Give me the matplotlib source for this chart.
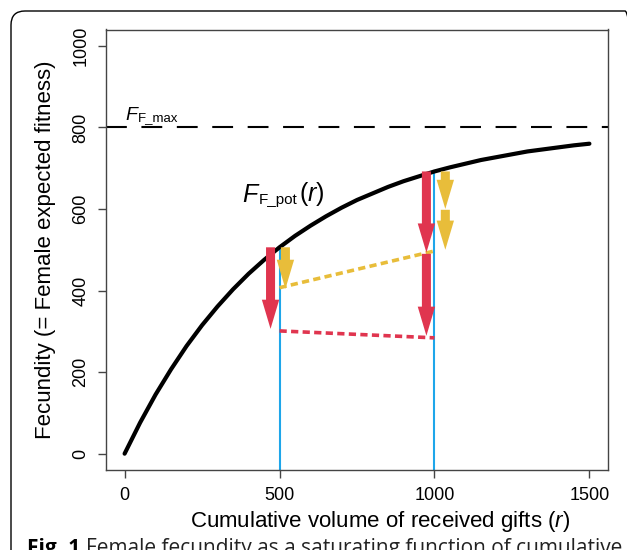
import numpy as np
import matplotlib
matplotlib.use('Agg')
import matplotlib.pyplot as plt
from matplotlib.patches import FancyArrowPatch, FancyBboxPatch, ArrowStyle

plt.rcParams['font.family'] = ['Liberation Sans', 'DejaVu Sans']
plt.rcParams['mathtext.fontset'] = 'custom'
plt.rcParams['mathtext.rm'] = 'Liberation Sans'
plt.rcParams['mathtext.it'] = 'Liberation Sans:italic'

# fecundity curve (every 50 units of r)
r_vals = list(range(0, 1501, 50))
fec_vals = [0, 76, 145, 207, 264, 315, 361, 403, 441, 475, 506, 534, 559, 582, 603,
            622, 638, 654, 668, 680, 692, 702, 711, 720, 727, 734, 741, 746, 751, 756, 760]
f_max = 800

# vertical guide lines (r, top value)
guide_r = [500, 1000]
guide_top = [506, 692]

# arrows: (r, start, end)
red_arrows = [(471, 506, 306), (974, 692, 493), (974, 490, 289)]
yellow_arrows = [(519, 506, 404), (1035, 692, 600), (1035, 598, 500)]

# dotted connecting lines
yellow_line_r = [500, 1000]
yellow_line_f = [407, 497]
red_line_r = [500, 1000]
red_line_f = [301, 284]

red = '#e0354f'
yellow = '#e8bd3a'
blue = '#1ea6ea'


def label_F(ax, x, y, sub, tail=None, size=13, subsize=9):
    # italic F, upright subscript, optional "(r)" after it
    t1 = ax.text(x, y, 'F', fontsize=size, style='italic', va='baseline', ha='left')
    t2 = ax.annotate(sub, xy=(1, 0), xycoords=t1, xytext=(0.5, 0), textcoords='offset points',
                     fontsize=subsize, va='bottom', ha='left')
    if tail:
        ax.annotate(tail, xy=(1, 0), xycoords=(t2, t1), xytext=(1, -1), textcoords='offset points',
                    fontsize=size, va='bottom', ha='left')


fig = plt.figure(figsize=(6.27, 5.5), dpi=100)
ax = fig.add_axes([106/627, 1 - 470/550, 502/627, 440.5/550])

ax.set_xlim(-60, 1560)
ax.set_ylim(-40, 1040)

ax.axhline(f_max, color='black', lw=1.5, dashes=(10, 7))

for r, top in zip(guide_r, guide_top):
    ax.plot([r, r], [-40, top], color=blue, lw=1.5, zorder=2)

ax.plot(yellow_line_r, yellow_line_f, color=yellow, lw=2.6, dashes=(2, 1.2), zorder=3)
ax.plot(red_line_r, red_line_f, color=red, lw=2.6, dashes=(2, 1.2), zorder=3)

ax.plot(r_vals, fec_vals, color='black', lw=3, solid_capstyle='round', zorder=4)

style = ArrowStyle.Simple(head_length=2.1, head_width=1.25, tail_width=0.65)
for arrows, col in [(red_arrows, red), (yellow_arrows, yellow)]:
    for r, y0, y1 in arrows:
        a = FancyArrowPatch((r, y0), (r, y1), arrowstyle=style, mutation_scale=10,
                            shrinkA=0, shrinkB=0, color=col, lw=0, zorder=5)
        ax.add_patch(a)

label_F(ax, 3, 818, 'F_max', size=14, subsize=9.5)
label_F(ax, 381, 618, 'F_pot', tail='($r$)', size=18, subsize=11)

ax.set_xticks([0, 500, 1000, 1500])
ax.set_yticks([0, 200, 400, 600, 800, 1000])
ax.tick_params(labelsize=13, length=6, width=1, color='#444444', pad=6)
for lab in ax.get_yticklabels():
    lab.set_rotation(90)
    lab.set_va('center')
for s in ax.spines.values():
    s.set_color('#444444')
    s.set_linewidth(1)

ax.set_xlabel('Cumulative volume of received gifts ($r$)', fontsize=16)
ax.set_ylabel('Fecundity (= Female expected fitness)', fontsize=16)
ax.xaxis.set_label_coords(0.546, -0.088)
ax.yaxis.set_label_coords(-0.1, 0.5)

# outer rounded frame
frame = FancyBboxPatch((0.11, -0.5), 6.28, 5.89, boxstyle='round,pad=0,rounding_size=0.14',
                       transform=fig.dpi_scale_trans, fill=False, lw=1, ec='black')
fig.patches.append(frame)

fig.text(27/627, 1 - 538/550, 'Fig. 1', fontsize=15, fontweight='bold',
         family=['Open Sans', 'DejaVu Sans'], va='top', ha='left')
fig.text(86/627, 1 - 538/550, 'Female fecundity as a saturating function of cumulative',
         fontsize=15, family=['Open Sans', 'DejaVu Sans'], va='top', ha='left', color='#222222')

fig.savefig('out.png', dpi=100)
